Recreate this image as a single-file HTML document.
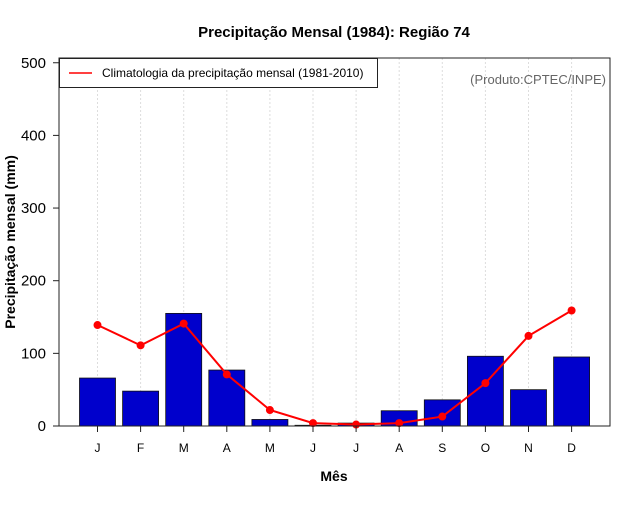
<!DOCTYPE html>
<html><head><meta charset="utf-8"><style>
body{margin:0;background:#fff;}
svg text{font-family:"Liberation Sans",sans-serif;}
</style></head><body>
<svg id="c" width="640" height="500"></svg>
<script>
const months=["J","F","M","A","M","J","J","A","S","O","N","D"];
const precip=[66,48,155,77,9,1,4,21,36,96,50,95];
const clim=[139,111,141,71,22,4,2,4,13,59,124,159];
const yTicks=[0,100,200,300,400,500];
const NS="http://www.w3.org/2000/svg";
const svg=document.getElementById('c');
const L=59,R=610,T=58,B=426;
function y(v){return 426-v*0.7265;}
function x(i){return 97.5+i*43.1;}
function el(t,a,p){const e=document.createElementNS(NS,t);for(const k in a)e.setAttribute(k,a[k]);(p||svg).appendChild(e);return e;}
// grid
months.forEach((m,i)=>{const g=el('line',{x1:x(i),x2:x(i),y1:T,y2:B,stroke:'#ddd','stroke-dasharray':'2,2'});

});
// bars
precip.forEach((v,i)=>{const b=el('rect',{x:x(i)-18,y:y(v),width:36,height:B-y(v),fill:'#0000cc',stroke:'#111','stroke-width':0.8});

});
// line
const pts=clim.map((v,i)=>x(i)+','+y(v)).join(' ');
const pl=el('polyline',{points:pts,fill:'none',stroke:'#f00','stroke-width':2});


clim.forEach((v,i)=>{const c=el('circle',{cx:x(i),cy:y(v),r:4,fill:'#f00'});

});
// box
const bx=el('rect',{x:L,y:T,width:R-L,height:B-T,fill:'none',stroke:'#222','stroke-width':1});


// y ticks
yTicks.forEach(v=>{el('line',{x1:L-6,x2:L,y1:y(v),y2:y(v),stroke:'#222'});
const t=el('text',{x:L-13,y:y(v)+5,'text-anchor':'end','font-size':15});t.textContent=v;

});
// x ticks
months.forEach((m,i)=>{el('line',{x1:x(i),x2:x(i),y1:B,y2:B+6,stroke:'#222'});
const t=el('text',{x:x(i),y:452,'text-anchor':'middle','font-size':12});t.textContent=m;

});
</script>
<svg width="640" height="500" style="position:absolute;left:0;top:0">
<text x="334" y="37" text-anchor="middle" font-size="15" font-weight="bold">Precipitação Mensal (1984): Região 74</text>
<text x="334" y="481" text-anchor="middle" font-size="14" font-weight="bold">Mês</text>
<text transform="translate(15,242) rotate(-90)" text-anchor="middle" font-size="14" font-weight="bold">Precipitação mensal (mm)</text>
<text x="606" y="84" text-anchor="end" font-size="13" fill="#666">(Produto:CPTEC/INPE)</text>
<g>
<rect x="59.5" y="58.5" width="318" height="29" fill="#fff" stroke="#222"/>
<line x1="69" x2="92" y1="73" y2="73" stroke="#f00" stroke-width="1.5"/>
<text x="102" y="77" font-size="12">Climatologia da precipitação mensal (1981-2010)</text>
</g>
</svg>
</body></html>
